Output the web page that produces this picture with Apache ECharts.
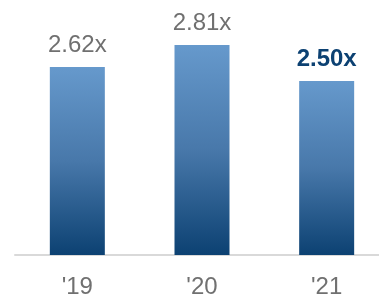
<!DOCTYPE html>
<html>
<head>
<meta charset="utf-8">
<style>
  html, body { margin: 0; padding: 0; background: #fff; }
  #chart { width: 379px; height: 295px; }
</style>
<script src="https://cdn.jsdelivr.net/npm/echarts@6/dist/echarts.min.js"></script>
</head>
<body>
<div id="chart"></div>
<script>
  // data
  const years = ["'19", "'20", "'21"];
  const coverage = [2.62, 2.81, 2.50];
  const labelText = ['2.62x', '2.81x', '2.50x'];

  const chart = echarts.init(document.getElementById('chart'));

  const barColor = new echarts.graphic.LinearGradient(0, 0, 0, 1, [
    { offset: 0, color: '#6699cc' },
    { offset: 0.5, color: '#4878aa' },
    { offset: 1, color: '#0c4172' }
  ]);

  chart.setOption({
    animation: false,
    grid: {
      left: 15,
      width: 374,
      top: 23,
      bottom: 40,
      outerBoundsMode: 'none'
    },
    xAxis: {
      type: 'category',
      data: years,
      axisLine: { lineStyle: { color: '#d9d9d9', width: 2 } },
      axisTick: { show: false },
      axisLabel: {
        color: '#707070',
        fontSize: 24,
        fontFamily: 'Liberation Sans, Arial, sans-serif',
        margin: 20
      }
    },
    yAxis: {
      type: 'value',
      min: 1,
      max: 3,
      show: false
    },
    series: [
      {
        type: 'bar',
        barWidth: 55,
        data: coverage.map((v, i) => ({
          value: v,
          label: i === 2
            ? { color: '#0c4172', fontWeight: 'bold' }
            : {}
        })),
        itemStyle: { color: barColor },
        label: {
          show: true,
          position: 'top',
          distance: 10,
          color: '#707070',
          fontSize: 24,
          fontFamily: 'Liberation Sans, Arial, sans-serif',
          formatter: p => labelText[p.dataIndex]
        }
      }
    ]
  });
</script>
</body>
</html>
